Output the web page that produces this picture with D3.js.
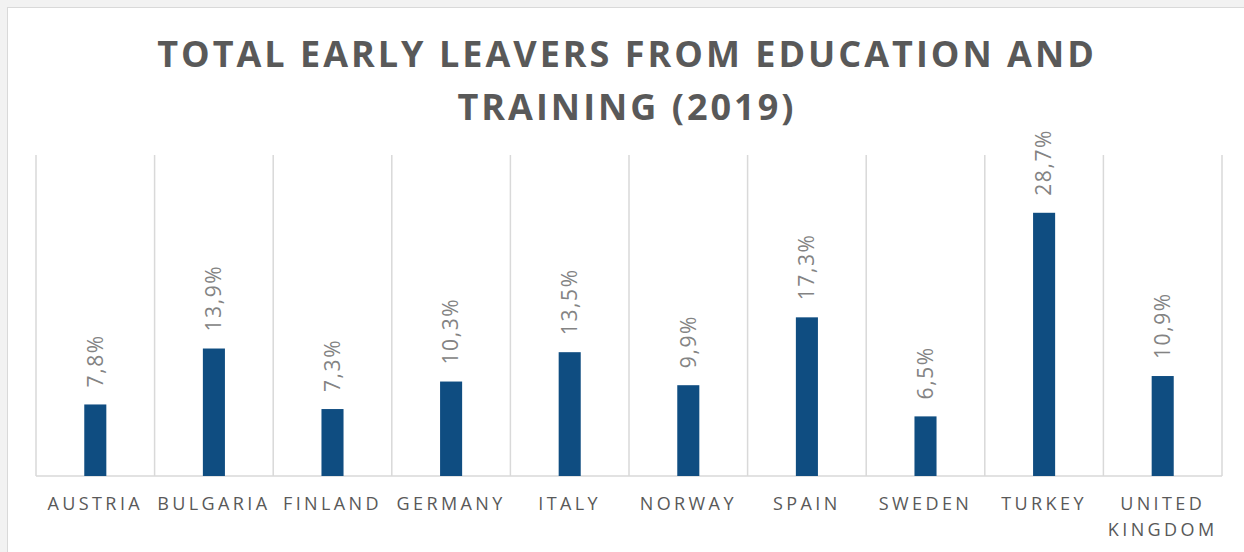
<!DOCTYPE html>
<html>
<head>
<meta charset="utf-8">
<script src="https://cdn.jsdelivr.net/npm/d3@7"></script>
<style>
  html, body { margin: 0; padding: 0; background: #f2f2f2; }
  svg { display: block; }
</style>
</head>
<body>
<svg id="chart" width="1244" height="552"></svg>
<script>
const categories = ["AUSTRIA", "BULGARIA", "FINLAND", "GERMANY", "ITALY", "NORWAY", "SPAIN", "SWEDEN", "TURKEY", "UNITED KINGDOM"];
const values = [7.8, 13.9, 7.3, 10.3, 13.5, 9.9, 17.3, 6.5, 28.7, 10.9];
const valueLabels = ["7,8%", "13,9%", "7,3%", "10,3%", "13,5%", "9,9%", "17,3%", "6,5%", "28,7%", "10,9%"];
const titleLines = ["TOTAL EARLY LEAVERS FROM EDUCATION AND", "TRAINING (2019)"];
const yMax = 35;

const W = 1244, H = 552;
const svg = d3.select("#chart");
const font = "'Open Sans', 'Liberation Sans', sans-serif";

// chart area
svg.append("rect")
  .attr("x", 7.5).attr("y", 7.5)
  .attr("width", W + 10).attr("height", H + 10)
  .attr("fill", "#ffffff").attr("stroke", "#d9d9d9").attr("stroke-width", 1);

const plot = { left: 36, right: 1222, top: 155, bottom: 476 };

const x = d3.scaleBand().domain(categories).range([plot.left, plot.right]).padding(0);
const y = d3.scaleLinear().domain([0, yMax]).range([plot.bottom, plot.top]);

// vertical gridlines at category boundaries
const bounds = categories.map(c => x(c)).concat([x(categories[categories.length - 1]) + x.bandwidth()]);
svg.append("g").selectAll("line").data(bounds).join("line")
  .attr("x1", d => d).attr("x2", d => d)
  .attr("y1", plot.top).attr("y2", plot.bottom)
  .attr("stroke", "#d9d9d9").attr("stroke-width", 1.5);

// baseline
svg.append("line")
  .attr("x1", plot.left).attr("x2", plot.right)
  .attr("y1", y(0)).attr("y2", y(0))
  .attr("stroke", "#d9d9d9").attr("stroke-width", 1.5);

// bars
const barW = x.bandwidth() * 0.186;
const data = categories.map((c, i) => ({ c, v: values[i], label: valueLabels[i] }));
svg.append("g").selectAll("rect").data(data).join("rect")
  .attr("x", d => x(d.c) + x.bandwidth() / 2 - barW / 2)
  .attr("y", d => y(d.v))
  .attr("width", barW)
  .attr("height", d => y(0) - y(d.v))
  .attr("fill", "#0f4d81");

// value labels (rotated)
svg.append("g").selectAll("text").data(data).join("text")
  .attr("transform", d => `translate(${x(d.c) + x.bandwidth() / 2},${y(d.v) - 17}) rotate(-90)`)
  .attr("dy", "0.35em")
  .attr("text-anchor", "start")
  .attr("font-family", font)
  .attr("font-size", 21)
  .attr("letter-spacing", "1.6px")
  .attr("fill", "#838383")
  .text(d => d.label);

// x axis labels
const xl = svg.append("g").selectAll("text").data(categories).join("text")
  .attr("x", d => x(d) + x.bandwidth() / 2)
  .attr("y", 510)
  .attr("text-anchor", "middle")
  .attr("font-family", font)
  .attr("font-size", 18)
  .attr("letter-spacing", "3.4px")
  .attr("fill", "#595959");
xl.each(function(d) {
  const t = d3.select(this);
  const words = d === "UNITED KINGDOM" ? ["UNITED", "KINGDOM"] : [d];
  words.forEach((w, i) => {
    t.append("tspan").attr("x", x(d) + x.bandwidth() / 2).attr("dy", i === 0 ? 0 : 26).text(w);
  });
});

// title
svg.append("g").selectAll("text").data(titleLines).join("text")
  .attr("x", 627)
  .attr("y", (d, i) => 67 + i * 53)
  .attr("text-anchor", "middle")
  .attr("font-family", font)
  .attr("font-weight", "bold")
  .attr("font-size", 36)
  .attr("letter-spacing", "3px")
  .attr("fill", "#595959")
  .text(d => d);
</script>
</body>
</html>
